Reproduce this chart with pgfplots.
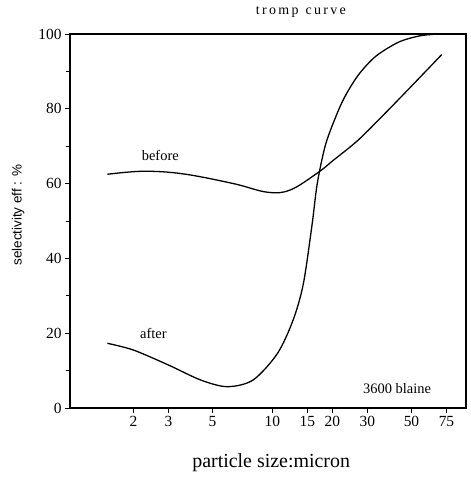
\documentclass[border=0pt]{standalone}
\usepackage{pgfplots}
\pgfplotsset{compat=1.18}
\usepackage{fontspec}
\setmainfont{Liberation Serif}
\setsansfont{Liberation Sans}
\begin{document}
\begin{tikzpicture}
\begin{axis}[
  at={(0,0)}, anchor=south west,
  scale only axis,
  width=396bp, height=374bp,
  xmode=log, log basis x=10,
  xmin=0.96, xmax=94,
  ymin=0, ymax=100,
  xtick={2,3,5,10,15,20,30,50,75},
  xticklabels={2,3,5,10,15,20,30,50,75},
  minor xtick={},
  ytick={0,20,40,60,80,100},
  minor ytick={10,30,50,70,90},
  tick align=outside,
  xtick pos=left, ytick pos=left,
  major tick length=5bp, minor tick length=4bp,
  every tick/.style={black, line width=0.9pt},
  axis line style={line width=1.1pt},
  tick label style={font=\fontsize{15.5}{15.5}\selectfont},
  /pgf/number format/assume math mode=true,
  clip=false,
]
\addplot[black, line width=1.3pt, smooth, tension=0.6] coordinates {
 (1.48,62.5) (2.25,63.3) (3.56,62.6) (6.37,60) (9.42,57.7) (12.3,58.3)
 (17.0,63) (20.2,66.2) (25.5,70.5) (30,74) (44,83) (71,94.5)
};
\addplot[black, line width=1.3pt, smooth, tension=0.5] coordinates {
 (1.48,17.3) (2,15.5) (3,11.5) (4.35,7.5) (5.93,5.7) (8.0,7.5) (10.6,14.6)
 (12.7,23.5) (14.3,33.2) (15.8,48.8) (16.8,60) (18.4,70) (20.5,77)
 (23,83) (27,89) (33,94) (43,97.8) (55,99.5) (68,100)
};
\node[font=\fontsize{14.5}{14.5}\selectfont] at (axis cs:2.73,67.6) {before};
\node[font=\fontsize{14.5}{14.5}\selectfont] at (axis cs:2.52,20) {after};
\node[font=\fontsize{14.5}{14.5}\selectfont] at (rel axis cs:0.826,0.053) {3600 blaine};
\node[font=\fontsize{14}{14}\selectfont] at (rel axis cs:0.583,1.059) {t\,r\,o\,m\,p\ \ c\,u\,r\,v\,e};
\node[font=\sffamily\fontsize{13.5}{13.5}\selectfont, rotate=90] at (rel axis cs:-0.131,0.516) {selectivity eff : \%};
\node[font=\fontsize{20}{20}\selectfont] at (rel axis cs:0.508,-0.147) {particle size:micron};
\end{axis}
\pgfresetboundingbox
\path[use as bounding box] (-70bp,-70bp) rectangle (401bp,408bp);
\end{tikzpicture}
\end{document}
